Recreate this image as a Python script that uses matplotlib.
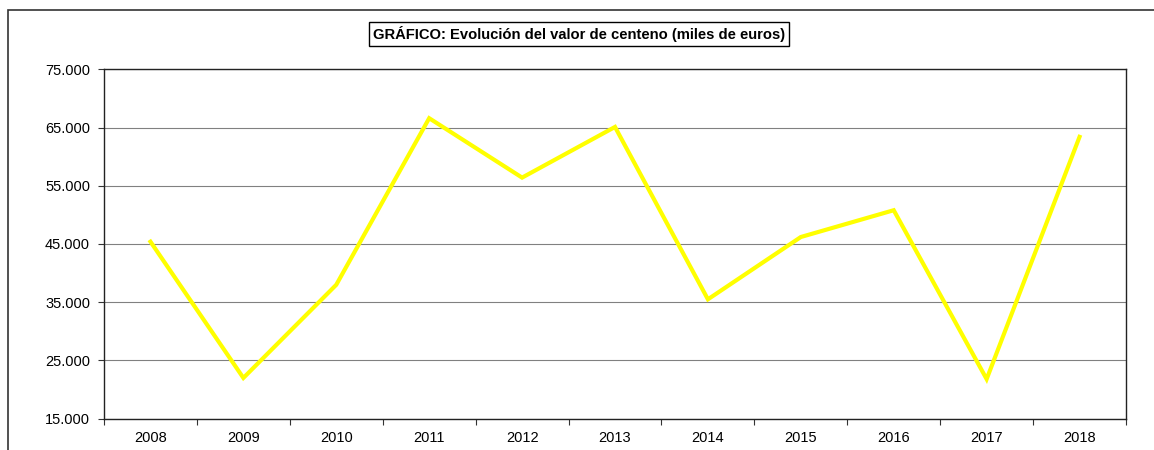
import matplotlib.pyplot as plt
from matplotlib.patches import Rectangle

years = ['2008', '2009', '2010', '2011', '2012', '2013', '2014', '2015', '2016', '2017', '2018']
valor = [45400, 22000, 38000, 66600, 56400, 65100, 35500, 46200, 50800, 21800, 63400]
y_ticks = [15000, 25000, 35000, 45000, 55000, 65000, 75000]

plt.rcParams['font.family'] = ['Liberation Sans', 'DejaVu Sans']

fig = plt.figure(figsize=(11.54, 4.5), dpi=100)
W, H = 1154, 450
ax = fig.add_axes([104 / W, 1 - 418.7 / H, (1126 - 104) / W, (418.7 - 69.3) / H])

# outer chart border (cut off at right and bottom in the reference)
fig.patches.append(Rectangle((7.5 / W, -0.1), 1.2, 1.1 - 10 / H, transform=fig.transFigure,
                             fill=False, edgecolor='#333333', lw=1.2))

x = range(len(years))
ax.plot(x, valor, color='#FFFF00', lw=3, solid_joinstyle='miter')

ax.set_xlim(-0.5, len(years) - 0.5)
ax.set_ylim(15000, 75000)
ax.set_yticks(y_ticks)
ax.set_yticklabels([f'{v:,}'.replace(',', '.') for v in y_ticks], fontsize=10.5)
ax.set_xticks([i - 0.5 for i in range(len(years) + 1)])
ax.set_xticklabels([])
ax.set_xticks(list(x), minor=True)
ax.set_xticklabels(years, minor=True, fontsize=10.5)
ax.tick_params(axis='x', which='minor', length=0, pad=9)
ax.tick_params(axis='x', which='major', length=4, direction='out', color='#333333')
ax.tick_params(axis='y', length=4, direction='out', color='#333333', pad=6)
ax.grid(axis='y', color='#808080', lw=0.8)
ax.set_axisbelow(True)
for s in ax.spines.values():
    s.set_color('#222222')
    s.set_linewidth(1.0)

fig.text(579 / W, 1 - 34 / H, 'GRÁFICO: Evolución del valor de centeno (miles de euros)',
         ha='center', va='center', fontsize=10.6, fontweight='bold',
         bbox=dict(boxstyle='square,pad=0.3', facecolor='white', edgecolor='black', lw=1))

fig.savefig('out.png', dpi=100)
